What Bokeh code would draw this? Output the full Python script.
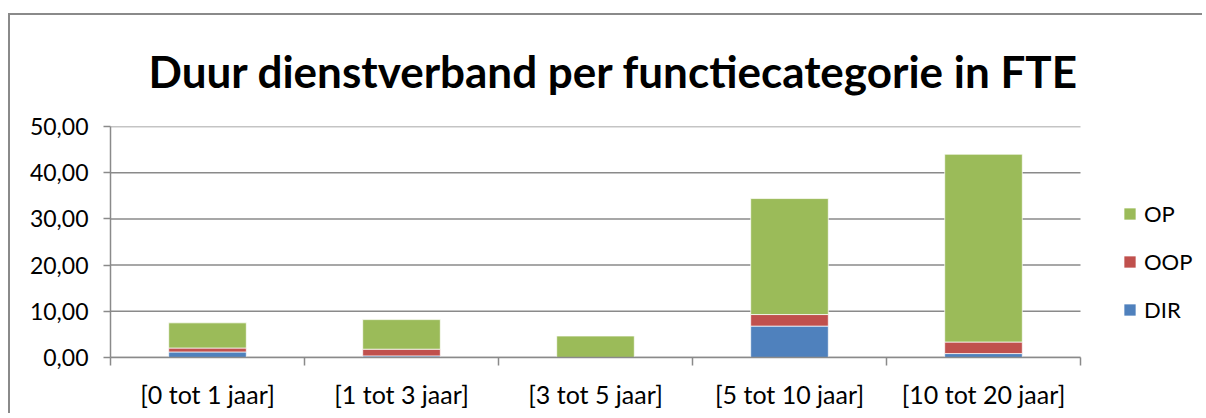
from bokeh.plotting import figure
from bokeh.models import (ColumnDataSource, Range1d, LinearAxis,
                          FixedTicker, Legend, LegendItem, Title)
from bokeh.embed import file_html
from bokeh.resources import INLINE

categories = ["[0 tot 1 jaar]", "[1 tot 3 jaar]", "[3 tot 5 jaar]", "[5 tot 10 jaar]", "[10 tot 20 jaar]"]
series = ["DIR", "OOP", "OP"]
DIR = [1.2, 0.35, 0.0, 6.8, 0.85]
OOP = [0.85, 1.45, 0.0, 2.5, 2.5]
OP = [5.45, 6.4, 4.65, 25.1, 40.65]
colors = ["#4F81BD", "#C0504D", "#9BBB59"]
y_ticks = [0, 10, 20, 30, 40, 50]
y_tick_labels = ["0,00", "10,00", "20,00", "30,00", "40,00", "50,00"]
title_text = "Duur dienstverband per functiecategorie in FTE"

FONT = "Lato"
GRAY = "#8a8a8a"

n = len(categories)
centers = [i + 0.5 for i in range(n)]
edges = list(range(n + 1))
source = ColumnDataSource(dict(x=centers, cat=categories, DIR=DIR, OOP=OOP, OP=OP))

# layout in pixels: plot area of the categories is 970 px wide, the frame runs on to the right edge
PLOT_W, FRAME_W = 970, 1096
x_end = n * FRAME_W / PLOT_W

p = figure(x_range=Range1d(0, x_end), y_range=Range1d(0, 50),
           width=1198, height=400, output_backend="svg", toolbar_location=None,
           x_axis_location=None, y_axis_location=None,
           min_border_left=102, min_border_right=0, min_border_top=113, min_border_bottom=56)
p.styles = {"margin-top": "13px", "margin-left": "8px",
            "box-shadow": "inset 2px 2px 0 0 #8a8a8a",
            "clip-path": "inset(0px 4px 0px 0px)"}
p.outline_line_color = None
p.background_fill_color = None
p.border_fill_color = None
p.xgrid.visible = False
p.ygrid.visible = False

t = Title(text=title_text, align="left", vertical_align="top", text_font=FONT,
          text_font_style="bold", text_font_size="44px", text_color="black",
          standoff=55, offset=38)
p.add_layout(t, "above")

# horizontal gridlines over the category area only
p.segment(x0=[0] * len(y_ticks), x1=[n] * len(y_ticks), y0=y_ticks, y1=y_ticks,
          line_color=GRAY, line_width=1.5)

renderers = p.vbar_stack(series, x="x", width=0.4, source=source, color=colors,
                         line_color="white", line_alpha=0.7, line_width=1)

# y axis
yaxis = LinearAxis(ticker=FixedTicker(ticks=y_ticks),
                   major_label_overrides={v: s for v, s in zip(y_ticks, y_tick_labels)})
yaxis.axis_line_color = GRAY
yaxis.axis_line_width = 1.5
yaxis.major_tick_line_color = GRAY
yaxis.major_tick_line_width = 1.5
yaxis.major_tick_out = 7
yaxis.major_tick_in = 0
yaxis.minor_tick_line_color = None
yaxis.major_label_text_font = FONT
yaxis.major_label_text_font_size = "23px"
yaxis.major_label_text_color = "black"
yaxis.major_label_standoff = 15
p.add_layout(yaxis, "left")

# x axis: labels at category centres, tick marks at category boundaries
xaxis = LinearAxis(ticker=FixedTicker(ticks=centers, minor_ticks=edges), bounds=(0, n),
                   major_label_overrides={c: s for c, s in zip(centers, categories)})
xaxis.axis_line_color = GRAY
xaxis.axis_line_width = 1.5
xaxis.major_tick_line_color = None
xaxis.major_tick_out = 0
xaxis.major_tick_in = 0
xaxis.minor_tick_line_color = GRAY
xaxis.minor_tick_line_width = 1.5
xaxis.minor_tick_out = 8
xaxis.minor_tick_in = 0
xaxis.major_label_text_font = FONT
xaxis.major_label_text_font_size = "25px"
xaxis.major_label_text_color = "black"
xaxis.major_label_standoff = 13
p.add_layout(xaxis, "below")

items = [LegendItem(label=s, renderers=[r]) for s, r in zip(series, renderers)][::-1]
legend = Legend(items=items, location=(1012, 34), orientation="vertical",
                label_text_font=FONT, label_text_font_size="22px", label_text_color="black",
                glyph_width=15, glyph_height=15, label_height=25, spacing=21,
                label_standoff=7, padding=0, margin=0,
                border_line_color=None, background_fill_alpha=0)
p.add_layout(legend, "center")

open("out.html", "w").write(file_html(p, INLINE))
